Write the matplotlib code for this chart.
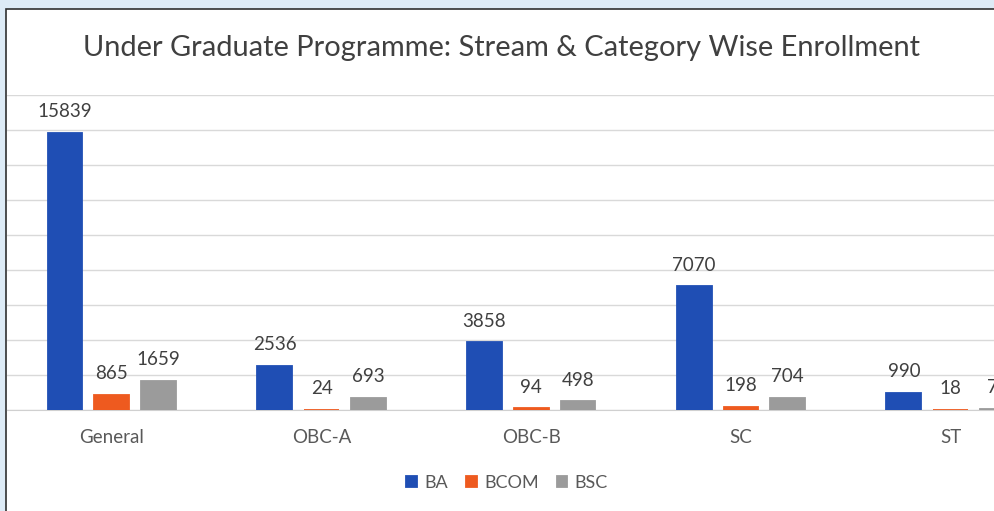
import matplotlib
matplotlib.use("Agg")
import matplotlib.pyplot as plt
from matplotlib.patches import Rectangle
import numpy as np

categories = ["General", "OBC-A", "OBC-B", "SC", "ST"]
series_names = ["BA", "BCOM", "BSC"]
ba = [15839, 2536, 3858, 7070, 990]
bcom = [865, 24, 94, 198, 18]
bsc = [1659, 693, 498, 704, 72]
colors = ["#1F4EB4", "#EE5A1F", "#9B9B9B"]
title = "Under Graduate Programme: Stream & Category Wise Enrollment"

plt.rcParams['font.family'] = ['Lato', 'DejaVu Sans']

W, H = 995, 511
fig = plt.figure(figsize=(W / 100, H / 100), dpi=100)
fig.patch.set_facecolor("#DDEBF6")

# white chart card with dark border on left/top
fig.add_artist(Rectangle((6 / W, -0.1), 1.2, (H - 9) / H + 0.1, transform=fig.transFigure,
                         facecolor="white", edgecolor="#303030", linewidth=1.2, zorder=0))

left = 7 / W
width = 5 * 209.7 / W
bottom = (H - 410) / H
height = 315 / H
ax = fig.add_axes([left, bottom, width, height])
ax.set_facecolor("none")

x = np.arange(len(categories))
bw = 0.166
step = 0.223
for i, (vals, c, name) in enumerate(zip([ba, bcom, bsc], colors, series_names)):
    pos = x + (i - 1) * step
    ax.bar(pos, vals, width=bw, color=c, edgecolor=c, linewidth=1.3, label=name, zorder=3)
    for p, v in zip(pos, vals):
        ax.annotate(f"{v}", (p, v), xytext=(0, 9), textcoords="offset points",
                    ha="center", va="bottom", fontsize=13.5, color="#404040", zorder=4)

ax.set_xlim(-0.5, len(categories) - 0.5)
ax.set_ylim(0, 18000)
ax.set_yticks(np.arange(0, 18001, 2000))
ax.yaxis.grid(True, color="#D9D9D9", linewidth=1)
ax.set_axisbelow(True)
ax.tick_params(axis="y", left=False, labelleft=False)
ax.tick_params(axis="x", length=0, pad=14, labelsize=13.5, labelcolor="#595959")
ax.set_xticks(x)
ax.set_xticklabels(categories)
for s in ["top", "right", "left"]:
    ax.spines[s].set_visible(False)
ax.spines["bottom"].set_color("#D0D0D0")
ax.spines["bottom"].set_zorder(1)

fig.text(502 / W, 1 - 48 / H, title, ha="center", va="center", fontsize=20.9, color="#404040")

handles, labels = ax.get_legend_handles_labels()
fig.legend(handles, labels, loc="center", bbox_to_anchor=(507 / W, 1 - 483 / H), ncol=3,
           frameon=False, fontsize=13, labelcolor="#595959", handlelength=0.6,
           handleheight=0.6, handletextpad=0.4, columnspacing=1.0)

fig.savefig("out.png", dpi=100)
